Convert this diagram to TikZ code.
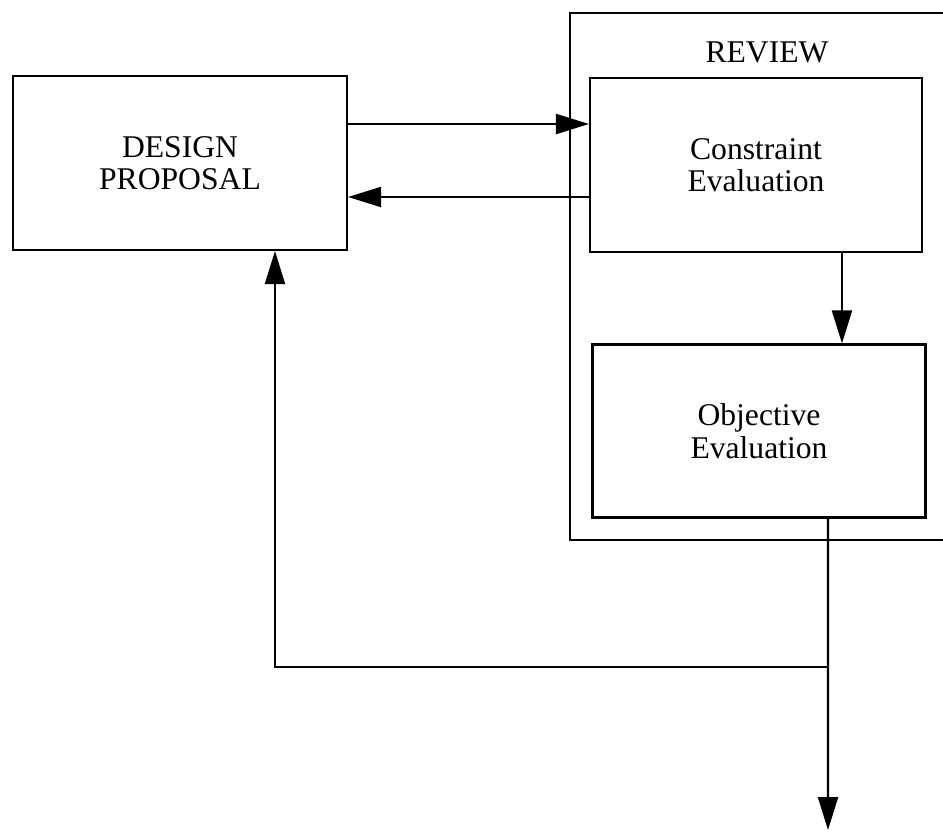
\documentclass[tikz,border=0pt]{standalone}
\usepackage{fontspec}
\setmainfont{Liberation Serif}
\usepackage{tikz}
\usetikzlibrary{arrows.meta}

\begin{document}
\begin{tikzpicture}[x=0.02cm, y=-0.02cm, line width=1.2pt,
        box/.style={rectangle, draw, minimum width=6.66cm, minimum height=3.48cm, align=center, font=\fontsize{18}{18.5}\selectfont},
        arr/.style={-{Triangle[length=0.66cm, width=0.4cm]}}]
        \useasboundingbox (0,0) rectangle (943,832);

        % review frame, open to the right
        \draw (943,13) -- (570,13) -- (570,540) -- (943,540);
        \node[font=\fontsize{18}{18.5}\selectfont] (review) at (767,52) {REVIEW};

        \node[box, minimum width=6.68cm] (dp) at (180,163) {DESIGN\\PROPOSAL};
        \node[box, minimum width=6.64cm] (ce) at (756,165) {Constraint\\Evaluation};
        \node[box, minimum height=3.46cm] (oe) at (759,431) {Objective\\Evaluation};

        \draw[arr] ([yshift=0.78cm]dp.east) -- ([yshift=0.78cm]dp.east -| ce.west);
        \draw[arr] ([yshift=-0.64cm]ce.west) -- ([yshift=-0.64cm]ce.west -| dp.east);

        \coordinate (ce-out) at ([xshift=1.72cm]ce.south);
        \draw[arr] (ce-out) -- (ce-out |- oe.north);

        \coordinate (oe-out) at ([xshift=1.38cm]oe.south);
        \coordinate (result) at (828,830);
        \coordinate (split) at (828,667);
        \draw[arr] (oe-out) -- (result);
        \draw[arr] (split) -| ([xshift=1.9cm]dp.south);
    \end{tikzpicture}
\end{document}
